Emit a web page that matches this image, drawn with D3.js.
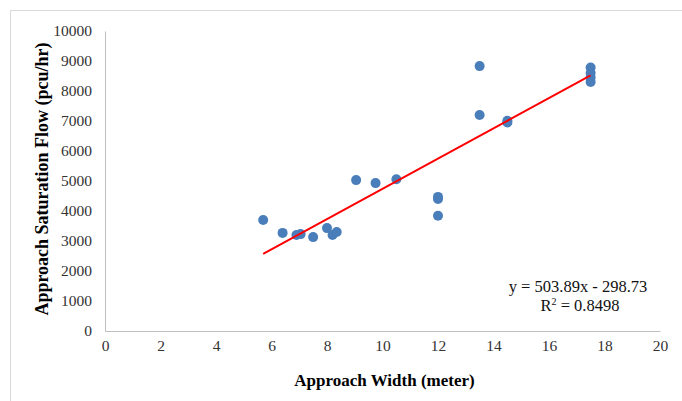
<!DOCTYPE html>
<html lang="en">
<head>
    <meta charset="UTF-8">
    <title>Approach Width vs Saturation Flow</title>
    <style>
        body { margin: 0; background: #fff; }
        svg { display: block; }
        .tick text { font-family: "Liberation Serif", "Times New Roman", serif; font-size: 15.5px; fill: #333; }
        .axis-title { font-family: "Liberation Serif", "Times New Roman", serif; font-weight: bold; fill: #000; }
        .eq { font-family: "Liberation Serif", "Times New Roman", serif; font-size: 16.5px; fill: #111; }
    </style>
</head>
<body>
    <div id="chart"></div>
    <script src="https://d3js.org/d3.v7.min.js"></script>
    <script>
        // Data
        const widths = [5.7, 6.4, 6.9, 7.05, 7.5, 8.0, 8.2, 8.35, 9.05, 9.75, 10.5, 12.0, 12.0, 12.0, 13.5, 13.5, 14.5, 14.5, 17.5, 17.5, 17.5, 17.5];
        const flows  = [3700, 3270, 3200, 3230, 3130, 3430, 3200, 3300, 5030, 4930, 5060, 4400, 4470, 3840, 8830, 7200, 6950, 7010, 8780, 8600, 8450, 8300];
        const xTicks = [0, 2, 4, 6, 8, 10, 12, 14, 16, 18, 20];
        const yTicks = [0, 1000, 2000, 3000, 4000, 5000, 6000, 7000, 8000, 9000, 10000];
        const slope = 503.89, intercept = -298.73, r2 = 0.8498;

        const width = 682, height = 401;
        const plotLeft = 105, plotRight = 660, plotTop = 31, plotBottom = 331;

        const svg = d3.select("#chart").append("svg")
            .attr("width", width)
            .attr("height", height);

        // outer frame (only top and left edges show in the crop)
        svg.append("rect")
            .attr("x", 10.5).attr("y", 10.5)
            .attr("width", 700).attr("height", 420)
            .attr("fill", "none")
            .attr("stroke", "#d9d9d9");

        const x = d3.scaleLinear().domain([0, 20]).range([plotLeft, plotRight]);
        const y = d3.scaleLinear().domain([0, 10000]).range([plotBottom, plotTop]);

        // axes
        const xAxis = svg.append("g")
            .attr("transform", `translate(0,${plotBottom})`)
            .call(d3.axisBottom(x).tickValues(xTicks).tickFormat(d3.format("d")).tickSize(0).tickPadding(9));
        xAxis.select(".domain").attr("stroke", "#bfbfbf");

        const yAxis = svg.append("g")
            .attr("transform", `translate(${plotLeft},0)`)
            .call(d3.axisLeft(y).tickValues(yTicks).tickFormat(d3.format("d")).tickSize(0).tickPadding(13));
        yAxis.select(".domain").attr("stroke", "#bfbfbf");

        // points
        const points = widths.map((w, i) => ({ w: w, f: flows[i] }));
        svg.append("g")
            .selectAll("circle")
            .data(points)
            .enter()
            .append("circle")
            .attr("cx", d => x(d.w))
            .attr("cy", d => y(d.f))
            .attr("r", 5)
            .attr("fill", "#4a7ebb");

        // linear trend line
        const xr = d3.extent(widths);
        svg.append("line")
            .attr("x1", x(xr[0])).attr("y1", y(slope * xr[0] + intercept))
            .attr("x2", x(xr[1])).attr("y2", y(slope * xr[1] + intercept))
            .attr("stroke", "#ff0000")
            .attr("stroke-width", 2);

        // equation
        svg.append("text").attr("class", "eq")
            .attr("x", 578).attr("y", 292)
            .attr("text-anchor", "middle")
            .text(`y = ${slope}x  - ${Math.abs(intercept)}`);
        const r2Text = svg.append("text").attr("class", "eq")
            .attr("x", 580).attr("y", 311)
            .attr("text-anchor", "middle");
        r2Text.append("tspan").text("R");
        r2Text.append("tspan").attr("font-size", 10).attr("dy", -6).text("2");
        r2Text.append("tspan").attr("dy", 6).text(` = ${r2}`);

        // axis titles
        svg.append("text").attr("class", "axis-title")
            .attr("x", (plotLeft + plotRight) / 2 + 2).attr("y", 386)
            .attr("font-size", 17)
            .attr("text-anchor", "middle")
            .text("Approach Width (meter)");

        svg.append("text").attr("class", "axis-title")
            .attr("transform", `translate(48,${(plotTop + plotBottom) / 2 - 2}) rotate(-90)`)
            .attr("font-size", 18)
            .attr("text-anchor", "middle")
            .text("Approach Saturation Flow (pcu/hr)");
    </script>
</body>
</html>
